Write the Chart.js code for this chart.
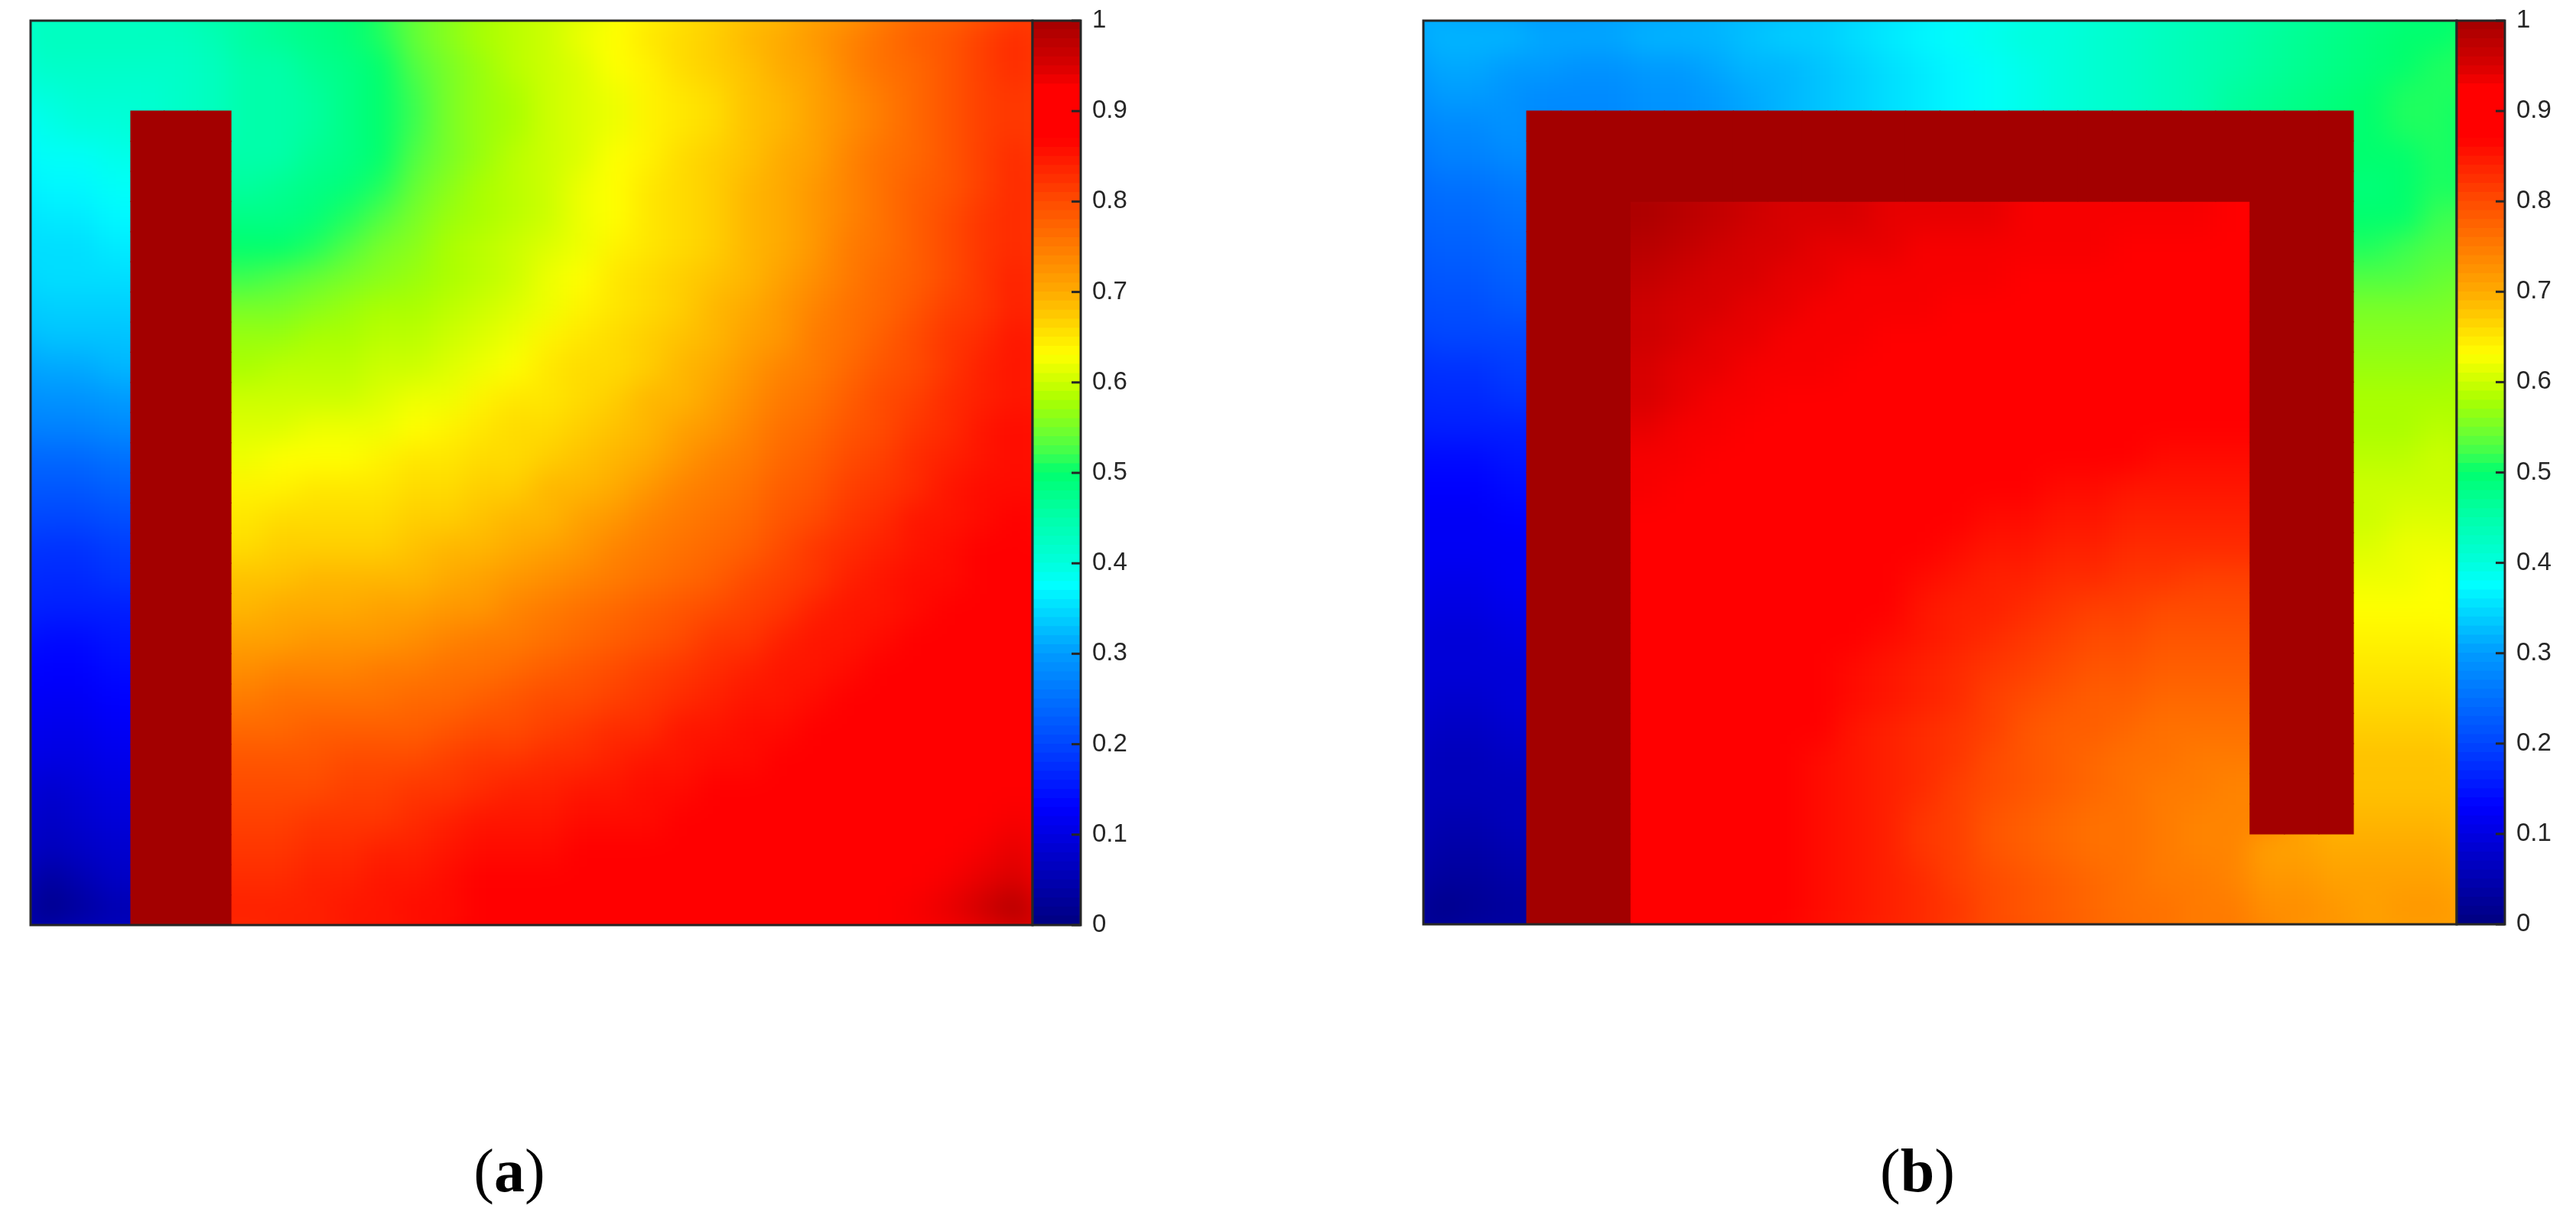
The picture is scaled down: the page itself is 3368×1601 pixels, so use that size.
<!DOCTYPE html>
<html>
<head>
<meta charset="utf-8">
<title>Heat maps</title>
<script src="https://cdn.jsdelivr.net/npm/chart.js@4"></script>
<style>
    body { margin: 0; background: #fff; width: 3368px; height: 1601px; position: relative; overflow: hidden; }
    .box { position: absolute; }
    .caption { position: absolute; top: 1530px; transform: translate(-50%, -50%); font: 80px "Liberation Serif", serif; color: #000; white-space: nowrap; }
    .caption b { font-weight: bold; }
</style>
</head>
<body>
<div class="box" style="left:20px;top:7px;width:1350px;height:1222px"><canvas id="heatA"></canvas></div>
<div class="box" style="left:1310px;top:-13px;width:180px;height:1262px"><canvas id="barA"></canvas></div>
<div class="box" style="left:1841px;top:7px;width:1391px;height:1221px"><canvas id="heatB"></canvas></div>
<div class="box" style="left:3172px;top:-13px;width:180px;height:1261px"><canvas id="barB"></canvas></div>
<div class="caption" style="left:666px">(<b>a</b>)</div>
<div class="caption" style="left:2507px">(<b>b</b>)</div>

<script>
    // Values, in percent of the colour scale. Rows run top to bottom, 30 x 30 cells.
    // 100 marks the dark walls.
    const heatValuesA = [
        [43,43,43,43,43,44,46,47,48,49,51,54,56,58,59,60,62,63,65,66,67,69,70,72,74,76,78,79,81,83],
        [42,42,42,42,42,43,45,45,47,48,50,53,55,57,59,60,61,63,64,66,67,68,70,71,74,76,77,79,81,83],
        [40,41,41,41,42,43,45,45,46,48,50,52,55,57,58,60,61,62,64,65,66,68,69,71,73,75,77,79,81,82],
        [39,40,40,100,100,100,45,45,46,48,50,52,55,57,58,60,61,62,64,65,66,68,69,71,73,75,77,79,81,82],
        [38,38,39,100,100,100,45,45,47,48,50,53,55,57,59,60,61,63,64,66,67,68,70,71,74,76,77,79,81,83],
        [37,37,38,100,100,100,46,47,48,49,51,54,56,58,59,60,62,63,65,66,67,69,70,72,74,76,78,79,81,83],
        [36,36,37,100,100,100,48,48,49,51,53,55,57,58,59,60,62,63,65,66,67,69,70,72,74,76,78,80,82,83],
        [35,35,36,100,100,100,50,50,51,53,55,56,58,59,60,61,62,64,65,66,67,69,70,72,75,76,78,80,82,83],
        [35,35,35,100,100,100,52,53,54,55,56,57,58,59,60,62,63,65,66,67,68,69,71,73,75,77,78,80,82,84],
        [34,34,34,100,100,100,55,55,56,57,58,58,59,60,61,62,64,65,66,67,69,70,72,74,76,77,79,81,82,84],
        [33,33,33,100,100,100,57,57,58,58,59,59,60,61,62,64,65,66,67,68,69,71,72,75,76,78,80,82,83,85],
        [31,31,32,100,100,100,58,59,59,59,60,60,61,62,63,65,66,66,67,69,70,72,74,75,77,79,80,82,84,85],
        [29,29,30,100,100,100,60,60,60,60,61,62,62,64,65,65,66,67,69,69,71,73,75,76,78,80,81,83,84,85],
        [27,27,28,100,100,100,61,61,62,62,62,63,64,65,66,66,67,68,69,71,72,74,76,77,79,80,82,83,85,86],
        [24,24,25,100,100,100,62,63,63,63,64,65,65,66,66,67,68,69,70,72,74,75,77,78,80,81,83,84,85,86],
        [22,22,23,100,100,100,64,64,65,65,65,66,66,67,67,69,69,70,72,74,75,76,78,79,81,82,83,85,86,86],
        [20,20,21,100,100,100,65,66,66,66,66,67,67,68,69,69,71,72,74,75,76,77,79,80,82,83,85,85,86,87],
        [18,18,19,100,100,100,66,67,67,67,67,68,69,69,70,71,72,74,75,76,77,78,80,82,83,84,85,86,87,87],
        [17,17,18,100,100,100,68,68,69,69,69,69,70,71,72,73,74,75,76,77,78,80,81,82,84,85,86,86,87,87],
        [16,16,16,100,100,100,69,70,70,70,71,71,72,72,74,75,76,77,78,79,80,81,82,84,85,85,86,87,87,88],
        [14,14,15,100,100,100,71,71,72,72,72,73,74,75,75,76,77,78,79,80,82,82,84,85,85,86,87,87,88,88],
        [13,13,14,100,100,100,73,74,74,74,75,75,76,76,77,78,79,80,81,82,83,84,85,85,86,87,87,88,88,89],
        [12,12,13,100,100,100,75,76,76,76,76,77,77,78,79,80,80,81,82,83,84,85,85,86,87,87,87,88,89,90],
        [11,11,12,100,100,100,77,77,78,78,78,78,79,80,80,81,82,83,83,85,85,86,86,87,87,87,88,88,89,90],
        [10,10,11,100,100,100,79,79,79,80,80,80,81,82,82,83,83,84,85,85,86,86,87,87,88,88,88,89,90,91],
        [8,9,10,100,100,100,80,80,80,81,81,82,82,83,84,84,85,85,86,86,87,87,87,88,88,89,89,90,91,92],
        [7,8,9,100,100,100,81,81,82,82,82,83,84,85,85,85,86,86,86,87,87,87,88,88,89,90,90,91,92,93],
        [6,7,8,100,100,100,82,82,83,83,84,84,85,86,86,86,87,87,87,87,88,88,88,89,90,90,91,92,93,94],
        [3,5,7,100,100,100,83,83,84,84,85,85,86,87,87,87,87,88,88,88,88,89,90,90,91,91,92,93,94,95],
        [1,3,5,100,100,100,84,84,84,85,85,86,86,87,87,88,88,88,89,89,90,90,91,91,92,92,93,94,96,99]
    ];

    const heatValuesB = [
        [32,32,32,31,31,31,32,32,32,33,34,34,35,36,37,38,39,40,40,41,42,43,44,45,46,47,48,49,50,50],
        [31,31,30,30,29,29,30,30,31,32,32,33,34,35,36,37,38,39,40,41,42,43,44,45,46,47,48,49,50,51],
        [30,30,29,28,28,28,29,29,30,31,32,33,34,35,36,37,38,39,40,41,42,43,44,46,47,48,49,50,51,51],
        [28,28,29,100,100,100,100,100,100,100,100,100,100,100,100,100,100,100,100,100,100,100,100,100,100,100,100,50,51,51],
        [27,27,28,100,100,100,100,100,100,100,100,100,100,100,100,100,100,100,100,100,100,100,100,100,100,100,100,50,50,51],
        [25,25,26,100,100,100,100,100,100,100,100,100,100,100,100,100,100,100,100,100,100,100,100,100,100,100,100,49,50,51],
        [24,24,25,100,100,100,99,98,97,96,95,95,95,94,94,94,94,93,93,93,93,93,93,92,100,100,100,50,50,52],
        [23,23,24,100,100,100,98,97,96,95,95,94,94,94,93,93,93,93,93,93,92,92,92,92,100,100,100,51,52,53],
        [22,22,23,100,100,100,97,96,95,95,94,94,93,93,93,93,93,92,92,92,92,92,91,91,100,100,100,53,53,54],
        [21,21,22,100,100,100,96,95,95,94,94,93,93,93,93,92,92,92,92,91,91,91,91,91,100,100,100,55,55,55],
        [20,20,20,100,100,100,96,95,94,94,93,93,93,92,92,92,91,91,91,91,91,91,90,90,100,100,100,56,56,56],
        [18,18,19,100,100,100,95,94,94,93,93,93,92,92,91,91,91,91,90,90,89,89,89,89,100,100,100,57,57,57],
        [17,17,18,100,100,100,95,94,93,93,92,92,92,91,91,91,90,90,89,89,88,88,88,88,100,100,100,58,58,58],
        [16,16,16,100,100,100,94,93,93,92,92,91,91,91,90,89,89,88,88,88,88,87,87,87,100,100,100,58,58,59],
        [14,14,15,100,100,100,93,93,92,92,91,91,90,89,88,88,88,87,87,87,87,86,86,86,100,100,100,59,59,60],
        [13,13,14,100,100,100,93,92,92,91,90,90,89,88,88,87,87,87,86,86,85,85,85,85,100,100,100,60,60,60],
        [12,12,13,100,100,100,92,91,91,90,89,89,88,88,87,87,86,86,85,85,84,84,84,84,100,100,100,60,61,61],
        [12,12,12,100,100,100,92,91,90,90,89,88,88,87,87,86,85,85,84,84,83,83,83,83,100,100,100,61,62,62],
        [11,11,12,100,100,100,91,90,89,89,89,88,87,87,86,85,84,84,83,83,82,82,81,81,100,100,100,62,62,63],
        [10,10,11,100,100,100,90,89,89,89,88,88,87,87,85,84,84,83,82,81,81,80,80,80,100,100,100,63,63,63],
        [9,9,10,100,100,100,89,89,89,89,88,87,87,86,85,84,83,82,81,80,80,79,79,79,100,100,100,64,64,64],
        [9,9,9,100,100,100,89,89,89,88,88,87,86,85,84,83,82,81,80,79,79,78,78,78,100,100,100,65,65,65],
        [8,8,9,100,100,100,89,89,89,88,87,87,86,85,84,83,81,80,79,78,78,77,77,77,100,100,100,66,66,66],
        [7,7,8,100,100,100,89,89,89,88,87,87,85,84,83,82,81,79,78,78,77,76,76,76,100,100,100,67,67,67],
        [6,6,7,100,100,100,89,89,88,88,87,86,85,84,83,82,80,79,78,77,76,76,75,75,100,100,100,68,68,68],
        [6,6,6,100,100,100,89,89,88,88,87,86,85,84,83,81,80,79,78,77,76,75,75,74,100,100,100,68,68,68],
        [5,5,6,100,100,100,89,89,88,88,87,86,85,84,82,81,79,78,77,76,76,75,74,74,100,100,100,69,69,69],
        [4,4,5,100,100,100,89,89,88,88,87,86,85,84,82,81,79,78,77,76,76,75,74,74,71,71,70,70,70,70],
        [3,3,4,100,100,100,89,89,88,88,87,86,85,84,83,81,80,79,78,77,76,75,75,74,72,72,71,71,71,71],
        [1,2,3,100,100,100,89,89,88,88,87,86,85,84,83,82,80,79,78,77,76,76,75,75,73,73,72,71,72,72]
    ];

    // Band edges of the colour bar
    const barLevels = [
        0,0.01,0.02,0.03,0.04,0.05,0.06,0.07,0.08,0.09,0.1,0.11,0.12,0.13,0.14,0.15,0.16,0.17,0.18,0.19,
        0.2,0.21,0.22,0.23,0.24,0.25,0.26,0.27,0.28,0.29,0.3,0.31,0.32,0.33,0.34,0.35,0.36,0.37,0.38,0.39,
        0.4,0.41,0.42,0.43,0.44,0.45,0.46,0.47,0.48,0.49,0.5,0.51,0.52,0.53,0.54,0.55,0.56,0.57,0.58,0.59,
        0.6,0.61,0.62,0.63,0.64,0.65,0.66,0.67,0.68,0.69,0.7,0.71,0.72,0.73,0.74,0.75,0.76,0.77,0.78,0.79,
        0.8,0.81,0.82,0.83,0.84,0.85,0.86,0.87,0.88,0.89,0.9,0.91,0.92,0.93,0.94,0.95,0.96,0.97,0.98,0.99,1
    ];

    const tickLabels = ['0', '0.1', '0.2', '0.3', '0.4', '0.5', '0.6', '0.7', '0.8', '0.9', '1'];

    // Colour scale as seen on the bar: value, r, g, b
    const colorStops = [
        [0, 0, 0, 128], [0.13, 0, 0, 255], [0.2, 0, 70, 255], [0.3, 0, 155, 255], [0.375, 0, 255, 255],
        [0.4, 0, 255, 220], [0.45, 0, 255, 170], [0.5, 0, 255, 110], [0.52, 60, 255, 80], [0.55, 120, 255, 40],
        [0.58, 170, 255, 0], [0.63, 255, 255, 0], [0.7, 255, 170, 0], [0.8, 255, 75, 0], [0.87, 255, 0, 0],
        [0.925, 255, 0, 0], [0.95, 215, 0, 0], [1, 163, 0, 0]
    ];

    const WALL = 100;
    const frameColor = '#262626';
    const blurSize = 18;

    // Looks a value up in the colour scale
    const colorFor = (value) => {
        let i = 1;
        while (i < colorStops.length - 1 && value > colorStops[i][0]) {
            i++;
        }
        const a = colorStops[i - 1];
        const b = colorStops[i];
        const t = Math.min(1, Math.max(0, (value - a[0]) / (b[0] - a[0])));
        const mix = (k) => Math.round(a[k] + (b[k] - a[k]) * t);
        return 'rgb(' + mix(1) + ',' + mix(2) + ',' + mix(3) + ')';
    };

    // Under a wall the field takes the value of the closest open cell, so the smoothing does not pick up the wall colour
    const openValue = (rows, i, j) => {
        for (let d = 0; d < rows.length * 2; d++) {
            for (let di = -d; di <= d; di++) {
                const dj = d - Math.abs(di);
                for (const c of [j - dj, j + dj]) {
                    const v = rows[i + di] && rows[i + di][c];
                    if (v !== undefined && v !== WALL) {
                        return v;
                    }
                }
            }
        }
        return WALL;
    };

    // Draws the box round the plot area, and the inward ticks of the colour bar
    const framePlugin = {
        id: 'frame',
        afterDraw: (chart) => {
            const area = chart.chartArea;
            const ctx = chart.ctx;
            ctx.save();
            ctx.strokeStyle = frameColor;
            ctx.lineWidth = 3;
            ctx.strokeRect(area.left, area.top, area.right - area.left, area.bottom - area.top);
            if (chart.scales.y.options.display) {
                chart.scales.y.ticks.forEach(tick => {
                    const y = chart.scales.y.getPixelForValue(tick.value);
                    ctx.beginPath();
                    ctx.moveTo(area.right - 12, y);
                    ctx.lineTo(area.right, y);
                    ctx.stroke();
                });
            }
            ctx.restore();
        }
    };

    // Softens the cell edges of the field, once it is drawn and before the walls go on top
    const smoothPlugin = (firstWallDrawn) => ({
        id: 'smooth',
        beforeDatasetDraw: (chart, args) => {
            if (args.index !== firstWallDrawn) {
                return;
            }
            const area = chart.chartArea;
            const margin = blurSize * 4;
            const w = area.right - area.left;
            const h = area.bottom - area.top;
            const copy = document.createElement('canvas');
            copy.width = w + margin * 2;
            copy.height = h + margin * 2;
            const copyCtx = copy.getContext('2d');
            // stretched copy underneath, so the blur has colours to pick up past the edges
            copyCtx.drawImage(chart.canvas, area.left, area.top, w, h, 0, 0, copy.width, copy.height);
            copyCtx.drawImage(chart.canvas, area.left, area.top, w, h, margin, margin, w, h);
            const ctx = chart.ctx;
            ctx.save();
            ctx.beginPath();
            ctx.rect(area.left, area.top, w, h);
            ctx.clip();
            ctx.filter = 'blur(' + blurSize + 'px)';
            ctx.drawImage(copy, area.left - margin, area.top - margin);
            ctx.restore();
        }
    });

    const baseOptions = {
        responsive: true,
        maintainAspectRatio: false,
        animation: false,
        events: [],
        plugins: { legend: { display: false }, tooltip: { enabled: false } }
    };

    const cellStyle = {
        borderWidth: 0,
        inflateAmount: 0.6,
        grouped: false,
        barPercentage: 1,
        categoryPercentage: 1
    };

    // One floating bar per cell, one dataset per row. Walls come first as Chart.js draws the last dataset first.
    const renderHeat = (canvasId, rows) => {
        const count = rows.length;
        const labels = rows[0].map((v, j) => String(j));
        const span = (i) => [(count - i - 1) / count, (count - i) / count];
        const walls = rows.map((row, i) => ({
            ...cellStyle,
            data: row.map(v => v === WALL ? span(i) : null),
            backgroundColor: colorFor(1)
        }));
        const field = rows.map((row, i) => ({
            ...cellStyle,
            data: row.map(() => span(i)),
            backgroundColor: row.map((v, j) => colorFor(openValue(rows, i, j) / 100))
        }));
        return new Chart(document.getElementById(canvasId), {
            type: 'bar',
            data: { labels, datasets: walls.concat(field) },
            options: {
                ...baseOptions,
                layout: { padding: 20 },
                scales: {
                    x: { display: false, offset: true },
                    y: { display: false, min: 0, max: 1 }
                }
            },
            plugins: [smoothPlugin(count - 1), framePlugin]
        });
    };

    const renderColorBar = (canvasId) => {
        const datasets = barLevels.slice(1).map((top, i) => ({
            ...cellStyle,
            data: [[barLevels[i], top]],
            backgroundColor: colorFor((barLevels[i] + top) / 2)
        }));
        return new Chart(document.getElementById(canvasId), {
            type: 'bar',
            data: { labels: ['level'], datasets },
            options: {
                ...baseOptions,
                layout: { padding: { left: 40, top: 40, bottom: 40, right: 0 } },
                scales: {
                    x: { display: false },
                    y: {
                        position: 'right',
                        min: 0,
                        max: 1,
                        afterBuildTicks: (scale) => {
                            scale.ticks = tickLabels.map(label => ({ value: Number(label), label }));
                        },
                        afterTickToLabelConversion: (scale) => {
                            scale.ticks.forEach((tick, i) => { tick.label = tickLabels[i]; });
                        },
                        afterFit: (scale) => { scale.width = 77; },
                        grid: { display: false, drawTicks: false },
                        border: { display: false },
                        ticks: {
                            autoSkip: false,
                            padding: 15,
                            color: frameColor,
                            font: { family: '"Liberation Sans", Arial, sans-serif', size: 33 }
                        }
                    }
                }
            },
            plugins: [framePlugin]
        });
    };

    renderHeat('heatA', heatValuesA);
    renderColorBar('barA');
    renderHeat('heatB', heatValuesB);
    renderColorBar('barB');
</script>
</body>
</html>
